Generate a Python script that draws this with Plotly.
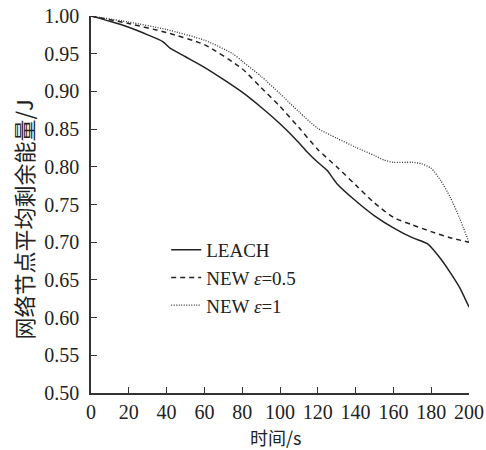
import plotly.graph_objects as go

leach_x = [0, 10, 20, 30, 38, 42, 50, 60, 70, 80, 90, 100, 110, 115, 120, 125, 130, 140, 150, 160, 170, 178, 185, 190, 195, 200]
leach_y = [1.0, 0.993, 0.985, 0.975, 0.966, 0.957, 0.946, 0.932, 0.916, 0.899, 0.879, 0.857, 0.832, 0.818, 0.806, 0.795, 0.778, 0.755, 0.735, 0.719, 0.706, 0.698, 0.678, 0.660, 0.640, 0.614]

new05_x = [0, 20, 40, 60, 80, 90, 100, 110, 120, 130, 140, 150, 160, 170, 180, 190, 200]
new05_y = [1.0, 0.99, 0.978, 0.962, 0.930, 0.905, 0.880, 0.852, 0.823, 0.800, 0.776, 0.752, 0.733, 0.723, 0.714, 0.706, 0.700]

new1_x = [0, 20, 40, 60, 75, 80, 90, 100, 110, 120, 130, 140, 150, 155, 160, 170, 175, 180, 185, 190, 195, 200]
new1_y = [1.0, 0.992, 0.982, 0.968, 0.950, 0.940, 0.920, 0.897, 0.873, 0.851, 0.838, 0.826, 0.815, 0.809, 0.806, 0.806, 0.804, 0.798, 0.782, 0.760, 0.732, 0.700]

names = ["LEACH", "NEW <i>ε</i>=0.5", "NEW <i>ε</i>=1"]
x_title = "时间/s"
y_title = "网络节点平均剩余能量/J"

serif = "Liberation Serif, Times New Roman, serif"
cjk = "Noto Sans CJK SC"

fig = go.Figure()
fig.add_trace(go.Scatter(x=leach_x, y=leach_y, name=names[0], mode="lines",
                         line=dict(color="#222", width=1.5, dash="solid", shape="spline", smoothing=0.6)))
fig.add_trace(go.Scatter(x=new05_x, y=new05_y, name=names[1], mode="lines",
                         line=dict(color="#222", width=1.5, dash="5px,4px", shape="spline", smoothing=0.6)))
fig.add_trace(go.Scatter(x=new1_x, y=new1_y, name=names[2], mode="lines",
                         line=dict(color="#333", width=1.3, dash="1px,1.5px", shape="spline", smoothing=0.6)))

fig.update_layout(
    width=486, height=450,
    margin=dict(l=91, r=17, t=16, b=57, autoexpand=False),
    paper_bgcolor="white", plot_bgcolor="white",
    font=dict(family=serif, size=20, color="#222"),
    showlegend=True,
    legend=dict(x=0.199, y=0.43, xanchor="left", yanchor="top",
                bgcolor="rgba(0,0,0,0)", font=dict(family=serif, size=19, color="#222"),
                tracegroupgap=0),
    xaxis=dict(range=[0, 200], dtick=20, tick0=0, showgrid=False, zeroline=False, automargin=False,
               showline=True, linecolor="#333", linewidth=1.5,
               ticks="inside", ticklen=6, tickcolor="#333", tickwidth=1.2, ticklabelstandoff=0,
               tickfont=dict(family=serif, size=20, color="#222")),
    yaxis=dict(range=[0.5, 1.0], dtick=0.05, tick0=0.5, tickformat=".2f", showgrid=False, zeroline=False,
               automargin=False,
               showline=True, linecolor="#333", linewidth=1.5,
               ticks="inside", ticklen=6, tickcolor="#333", tickwidth=1.2, ticklabelstandoff=6,
               tickfont=dict(family=serif, size=20, color="#222")),
    annotations=[
        dict(text=x_title, xref="paper", yref="paper", x=0.489, y=-0.116,
             xanchor="center", yanchor="middle", showarrow=False,
             font=dict(family=cjk, size=18, color="#222")),
        dict(text=y_title, xref="paper", yref="paper", x=-0.18, y=0.46,
             xanchor="center", yanchor="middle", showarrow=False, textangle=-90,
             font=dict(family=cjk, size=22, color="#222")),
    ],
)

fig.write_html("out.html", config={"displayModeBar": False},
               post_script="document.body.style.margin='0';document.body.style.padding='0';document.body.style.overflow='hidden';")
